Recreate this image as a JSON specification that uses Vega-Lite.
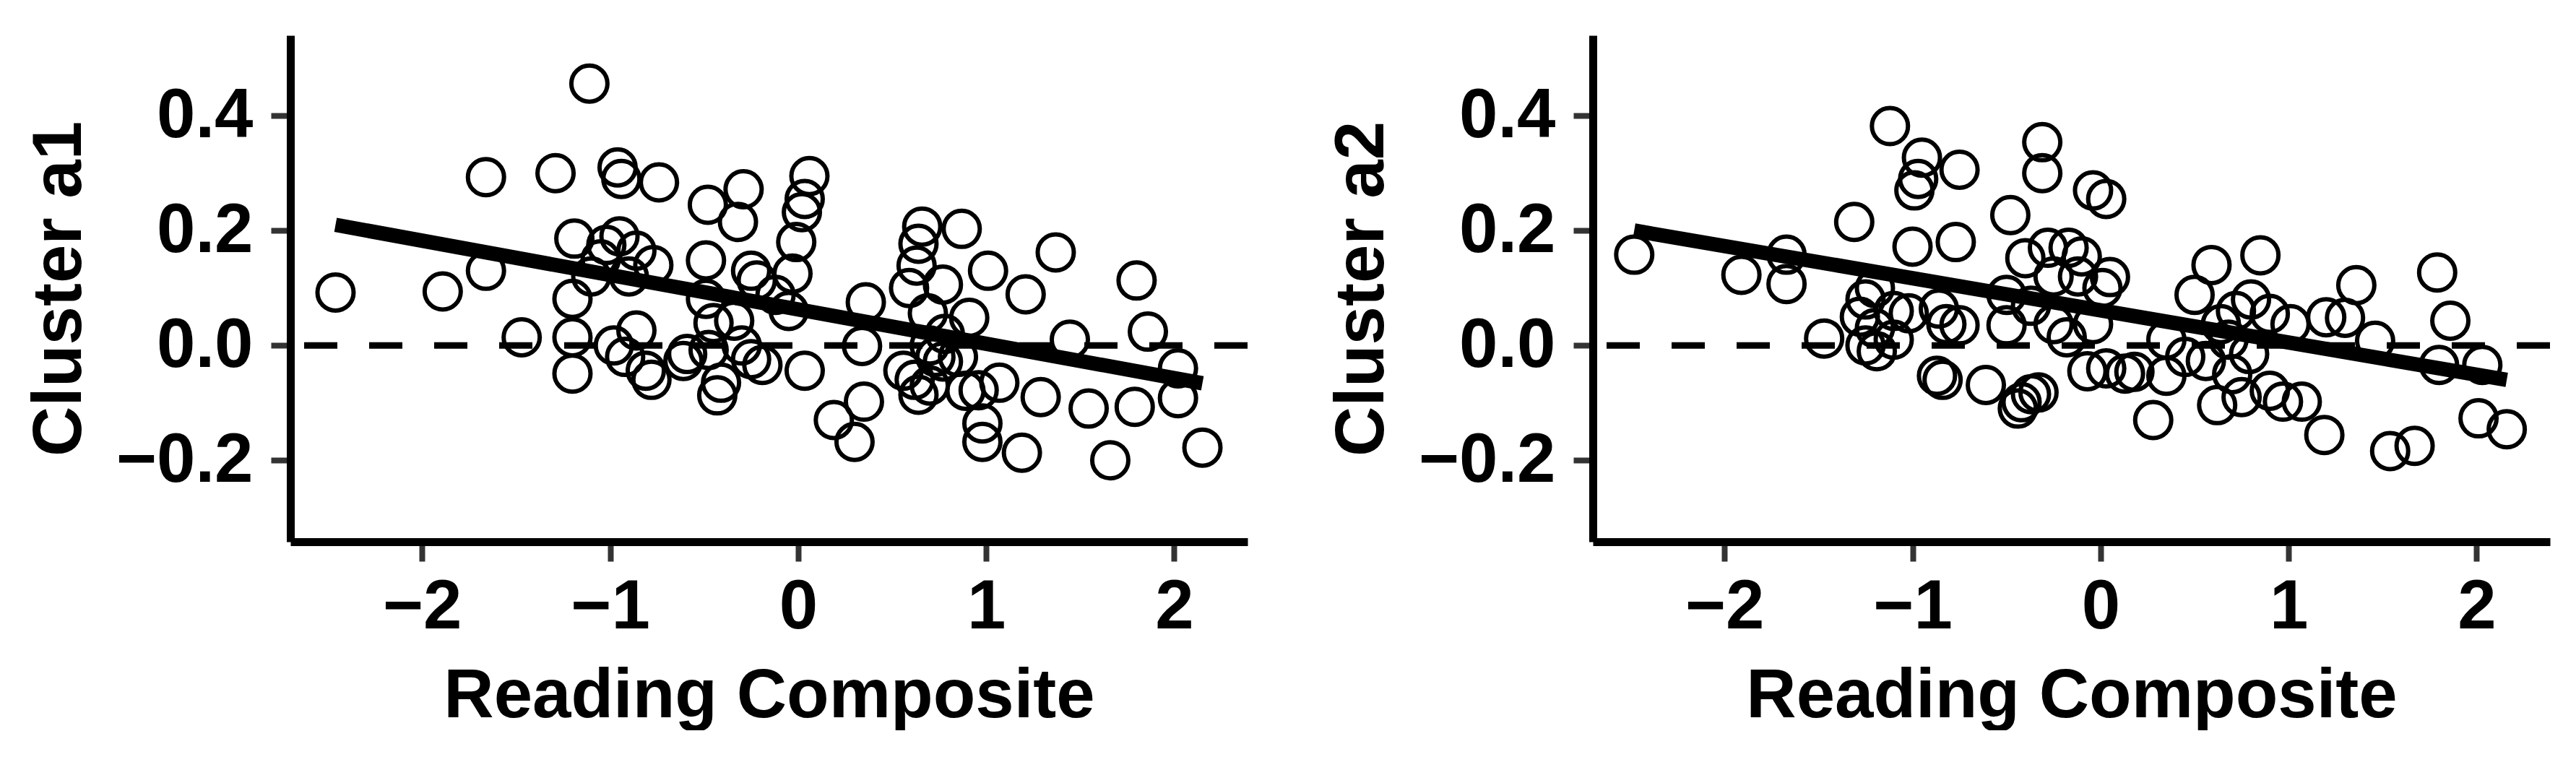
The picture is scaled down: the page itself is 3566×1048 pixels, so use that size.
{
  "$schema": "https://vega.github.io/schema/vega-lite/v6.json",
  "background": "white",
  "padding": {"left": 34, "top": 49, "right": 0, "bottom": 0},
  "autosize": {"type": "pad"},
  "bounds": "flush",
  "spacing": 478,
  "config": {
    "view": {"stroke": null},
    "font": "Liberation Sans",
    "axis": {
      "labelFont": "Liberation Sans", "labelFontSize": 96, "labelFontWeight": "bold", "labelColor": "black",
      "titleFont": "Liberation Sans", "titleFontSize": 96, "titleFontWeight": "bold", "titleColor": "black",
      "domainColor": "black", "domainWidth": 11, "tickColor": "#333333", "tickWidth": 8, "tickSize": 27,
      "grid": false, "labelFlush": false, "labelOverlap": false, "labelLimit": 0, "titleLimit": 0
    }
  },
  "datasets": {
    "a1": [
      {"x":-2.46,"y":0.092},{"x":-1.89,"y":0.094},{"x":-1.66,"y":0.13},{"x":-1.66,"y":0.293},{"x":-1.29,"y":0.30},
      {"x":-1.11,"y":0.456},{"x":-0.96,"y":0.31},{"x":-0.94,"y":0.29},{"x":-0.74,"y":0.284},{"x":-0.48,"y":0.245},
      {"x":-0.29,"y":0.272},{"x":-0.32,"y":0.215},{"x":0.06,"y":0.295},{"x":0.035,"y":0.255},{"x":0.02,"y":0.232},
      {"x":-0.01,"y":0.18},{"x":-0.03,"y":0.125},{"x":-1.47,"y":0.014},{"x":-1.19,"y":0.186},{"x":-0.95,"y":0.19},
      {"x":-1.02,"y":0.175},{"x":-0.86,"y":0.165},{"x":-0.77,"y":0.14},{"x":-1.2,"y":0.081},{"x":-1.2,"y":0.014},
      {"x":-1.2,"y":-0.049},{"x":-0.98,"y":0.0},{"x":-0.86,"y":0.026},{"x":-0.81,"y":-0.044},{"x":-0.92,"y":-0.02},
      {"x":-0.78,"y":-0.06},{"x":-0.49,"y":0.148},{"x":-0.49,"y":0.081},{"x":-0.45,"y":0.039},{"x":-0.59,"y":-0.015},
      {"x":-0.43,"y":-0.087},{"x":-0.41,"y":-0.065},{"x":-0.25,"y":-0.024},{"x":-0.25,"y":0.13},{"x":-0.22,"y":0.113},
      {"x":-0.12,"y":0.088},{"x":-0.34,"y":0.043},{"x":0.035,"y":-0.044},{"x":-0.19,"y":-0.034},{"x":-0.476,"y":-0.008},
      {"x":-0.61,"y":-0.027},{"x":0.34,"y":-0.001},{"x":0.36,"y":0.075},{"x":0.35,"y":-0.098},{"x":0.19,"y":-0.13},
      {"x":0.30,"y":-0.168},{"x":0.66,"y":0.207},{"x":0.87,"y":0.203},{"x":0.64,"y":0.177},{"x":0.63,"y":0.139},
      {"x":0.59,"y":0.10},{"x":0.77,"y":0.106},{"x":1.01,"y":0.13},{"x":1.37,"y":0.162},{"x":1.21,"y":0.089},
      {"x":1.80,"y":0.113},{"x":0.91,"y":0.048},{"x":0.69,"y":0.056},{"x":1.445,"y":0.01},{"x":1.86,"y":0.024},
      {"x":2.02,"y":-0.04},{"x":2.02,"y":-0.092},{"x":0.64,"y":-0.086},{"x":0.56,"y":-0.044},{"x":0.77,"y":-0.028},
      {"x":0.70,"y":-0.07},{"x":0.89,"y":-0.079},{"x":0.96,"y":-0.078},{"x":1.07,"y":-0.065},{"x":1.29,"y":-0.09},
      {"x":1.545,"y":-0.11},{"x":1.79,"y":-0.107},{"x":0.98,"y":-0.136},{"x":0.98,"y":-0.168},{"x":1.19,"y":-0.187},
      {"x":1.66,"y":-0.2},{"x":2.15,"y":-0.178},{"x":0.62,"y":-0.06},{"x":0.73,"y":-0.02},{"x":-1.05,"y":0.15},
      {"x":-0.9,"y":0.12},{"x":-1.1,"y":0.12},{"x":-0.05,"y":0.06},{"x":-0.3,"y":0.0},{"x":0.7,"y":0.0},
      {"x":0.85,"y":-0.02},{"x":0.78,"y":0.02}
    ],
    "a2": [
      {"x":-2.48,"y":0.158},{"x":-1.91,"y":0.123},{"x":-1.67,"y":0.158},{"x":-1.67,"y":0.107},{"x":-1.47,"y":0.012},
      {"x":-1.31,"y":0.215},{"x":-1.12,"y":0.382},{"x":-0.95,"y":0.327},{"x":-0.97,"y":0.29},{"x":-0.99,"y":0.27},
      {"x":-0.75,"y":0.306},{"x":-1.0,"y":0.172},{"x":-0.77,"y":0.18},{"x":-0.48,"y":0.227},{"x":-0.31,"y":0.354},
      {"x":-0.31,"y":0.3},{"x":-0.04,"y":0.27},{"x":0.03,"y":0.255},{"x":-0.4,"y":0.152},{"x":-0.28,"y":0.17},
      {"x":-0.17,"y":0.17},{"x":-0.1,"y":0.155},{"x":-0.25,"y":0.12},{"x":-0.12,"y":0.12},{"x":0.01,"y":0.1},
      {"x":0.05,"y":0.119},{"x":-1.25,"y":0.08},{"x":-1.2,"y":0.03},{"x":-1.25,"y":0.0},{"x":-1.1,"y":0.06},
      {"x":-1.1,"y":0.01},{"x":-1.2,"y":0.1},{"x":-1.28,"y":0.05},{"x":-1.19,"y":-0.01},{"x":-1.02,"y":0.056},
      {"x":-0.86,"y":0.064},{"x":-0.75,"y":0.035},{"x":-0.82,"y":0.037},{"x":-0.87,"y":-0.053},{"x":-0.84,"y":-0.06},
      {"x":-0.61,"y":-0.069},{"x":-0.44,"y":-0.11},{"x":-0.37,"y":-0.085},{"x":-0.33,"y":-0.082},{"x":-0.42,"y":-0.099},
      {"x":-0.5,"y":0.035},{"x":-0.5,"y":0.088},{"x":-0.37,"y":0.069},{"x":-0.18,"y":0.014},{"x":-0.25,"y":0.037},
      {"x":-0.07,"y":-0.045},{"x":-0.04,"y":0.037},{"x":0.03,"y":-0.04},{"x":0.18,"y":-0.046},{"x":0.13,"y":-0.049},
      {"x":0.35,"y":-0.053},{"x":0.28,"y":-0.13},{"x":0.35,"y":0.01},{"x":0.5,"y":0.088},{"x":0.59,"y":0.14},
      {"x":0.85,"y":0.157},{"x":0.8,"y":0.08},{"x":0.9,"y":0.055},{"x":0.64,"y":0.037},{"x":0.56,"y":-0.027},
      {"x":0.79,"y":-0.015},{"x":1.01,"y":0.037},{"x":0.62,"y":-0.104},{"x":0.9,"y":-0.079},{"x":0.97,"y":-0.098},
      {"x":1.07,"y":-0.098},{"x":1.19,"y":-0.156},{"x":1.36,"y":0.105},{"x":1.3,"y":0.048},{"x":1.2,"y":0.049},
      {"x":1.46,"y":0.008},{"x":1.54,"y":-0.184},{"x":1.67,"y":-0.175},{"x":1.79,"y":0.127},{"x":1.86,"y":0.043},
      {"x":1.8,"y":-0.034},{"x":2.03,"y":-0.034},{"x":2.01,"y":-0.127},{"x":2.16,"y":-0.146},{"x":0.7,"y":-0.05},
      {"x":0.75,"y":-0.09},{"x":0.45,"y":-0.02},{"x":0.68,"y":0.01},{"x":0.72,"y":0.06}
    ],
    "fit1": [{"x":-2.46,"y":0.21},{"x":2.15,"y":-0.066}],
    "fit2": [{"x":-2.48,"y":0.2},{"x":2.16,"y":-0.06}]
  },
  "hconcat": [
    {
      "width": 1325, "height": 701,
      "layer": [
        {
          "data": {"values": [{}]},
          "mark": {"type": "rule", "strokeDash": [46, 44], "strokeWidth": 9, "color": "black"},
          "encoding": {"y": {"datum": 0, "type": "quantitative"}}
        },
        {
          "data": {"name": "a1"},
          "mark": {"type": "point", "shape": "circle", "filled": false, "size": 2500, "strokeWidth": 6, "color": "black", "opacity": 1},
          "encoding": {
            "x": {"field": "x", "type": "quantitative", "scale": {"domain": [-2.70, 2.39], "nice": false, "zero": false},
              "axis": {"title": "Reading Composite", "values": [-2, -1, 0, 1, 2], "format": "d", "labelBaseline": "alphabetic", "labelPadding": 92, "titleBaseline": "alphabetic", "titleY": 242}},
            "y": {"field": "y", "type": "quantitative", "scale": {"domain": [-0.342, 0.540], "nice": false, "zero": false},
              "axis": {"title": "Cluster a1", "values": [-0.2, 0, 0.2, 0.4], "format": ".1f", "labelPadding": 25, "titleAngle": 270, "titleBaseline": "alphabetic", "titleX": -291}}
          }
        },
        {
          "data": {"name": "fit1"},
          "mark": {"type": "line", "strokeWidth": 20, "color": "black", "strokeCap": "butt"},
          "encoding": {"x": {"field": "x", "type": "quantitative"}, "y": {"field": "y", "type": "quantitative"}}
        }
      ]
    },
    {
      "width": 1325, "height": 701,
      "layer": [
        {
          "data": {"values": [{}]},
          "mark": {"type": "rule", "strokeDash": [46, 44], "strokeWidth": 9, "color": "black"},
          "encoding": {"y": {"datum": 0, "type": "quantitative"}}
        },
        {
          "data": {"name": "a2"},
          "mark": {"type": "point", "shape": "circle", "filled": false, "size": 2500, "strokeWidth": 6, "color": "black", "opacity": 1},
          "encoding": {
            "x": {"field": "x", "type": "quantitative", "scale": {"domain": [-2.70, 2.39], "nice": false, "zero": false},
              "axis": {"title": "Reading Composite", "values": [-2, -1, 0, 1, 2], "format": "d", "labelBaseline": "alphabetic", "labelPadding": 92, "titleBaseline": "alphabetic", "titleY": 242}},
            "y": {"field": "y", "type": "quantitative", "scale": {"domain": [-0.342, 0.540], "nice": false, "zero": false},
              "axis": {"title": "Cluster a2", "values": [-0.2, 0, 0.2, 0.4], "format": ".1f", "labelPadding": 25, "titleAngle": 270, "titleBaseline": "alphabetic", "titleX": -291}}
          }
        },
        {
          "data": {"name": "fit2"},
          "mark": {"type": "line", "strokeWidth": 20, "color": "black", "strokeCap": "butt"},
          "encoding": {"x": {"field": "x", "type": "quantitative"}, "y": {"field": "y", "type": "quantitative"}}
        }
      ]
    }
  ]
}
